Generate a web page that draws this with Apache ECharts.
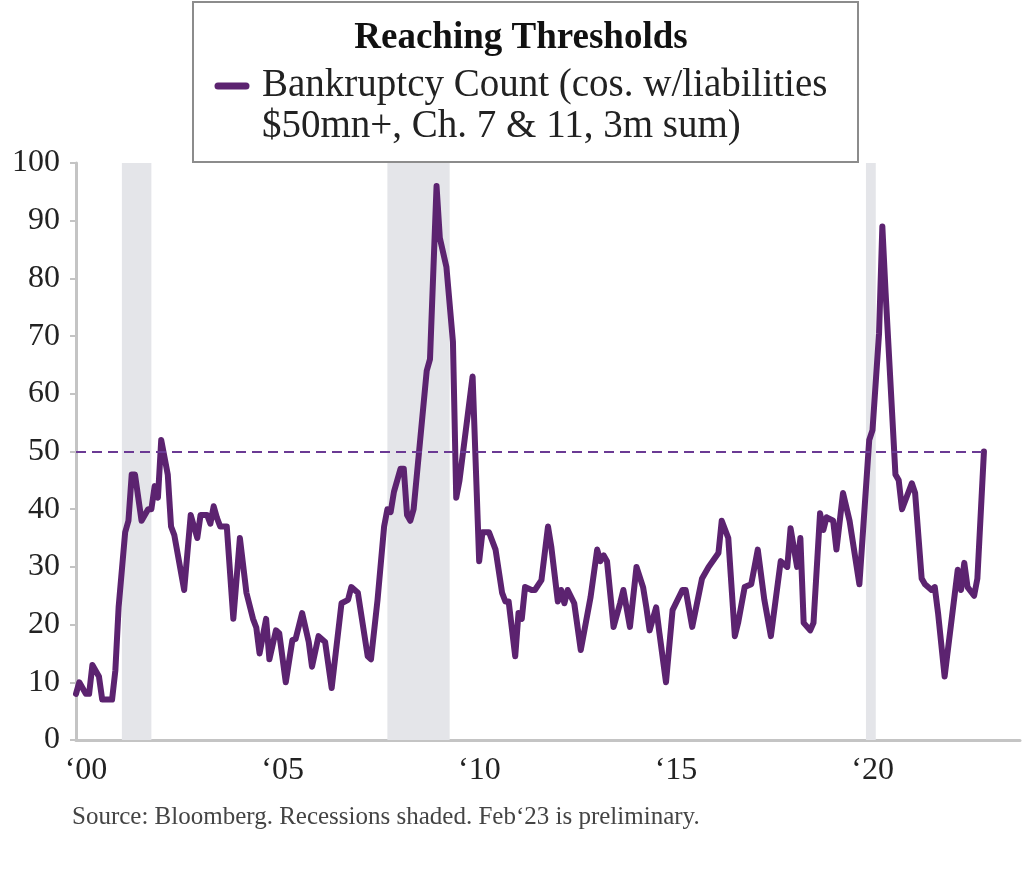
<!DOCTYPE html>
<html>
<head>
<meta charset="utf-8">
<script src="https://cdn.jsdelivr.net/npm/echarts@6.0.0/dist/echarts.min.js"></script>
<style>
  html, body { margin: 0; padding: 0; background: #fff; }
  #chart { width: 1024px; height: 894px; }
</style>
</head>
<body>
<div id="chart"></div>
<script>
// bankruptcy count (turning points of the monthly line)
const months = [
  '2000-01','2000-02','2000-04','2000-05','2000-06','2000-08','2000-09','2000-12',
  '2001-01','2001-02','2001-04','2001-05','2001-06','2001-07','2001-09','2001-10','2001-11','2001-12',
  '2002-01','2002-02','2002-03','2002-04','2002-05','2002-06','2002-07','2002-10','2002-12',
  '2003-01','2003-02','2003-03','2003-05','2003-06','2003-07','2003-08','2003-09','2003-11',
  '2004-01','2004-03','2004-05','2004-07','2004-08','2004-09','2004-10','2004-11','2004-12',
  '2005-02','2005-03','2005-05','2005-07','2005-08','2005-10','2005-12',
  '2006-01','2006-03','2006-05','2006-07','2006-10','2006-12',
  '2007-01','2007-03','2007-06','2007-07','2007-09','2007-11','2007-12',
  '2008-01','2008-02','2008-04','2008-05','2008-06','2008-07','2008-08','2008-12',
  '2009-01','2009-03','2009-04','2009-06','2009-08','2009-09','2009-10',
  '2010-02','2010-04','2010-05','2010-07','2010-09','2010-11','2010-12',
  '2011-01','2011-03','2011-04','2011-05','2011-06','2011-08','2011-09','2011-11',
  '2012-01','2012-02','2012-04','2012-05','2012-06','2012-07','2012-09','2012-11',
  '2013-02','2013-04','2013-05','2013-06','2013-07','2013-09','2013-11','2013-12',
  '2014-02','2014-04','2014-06','2014-07','2014-08','2014-10','2014-11',
  '2015-01','2015-03','2015-06','2015-07','2015-09','2015-12',
  '2016-01','2016-02','2016-05','2016-06','2016-08','2016-10','2016-11',
  '2017-01','2017-03','2017-05','2017-07','2017-09','2017-12',
  '2018-02','2018-03','2018-05','2018-06','2018-07','2018-09','2018-10','2018-12',
  '2019-01','2019-02','2019-04','2019-05','2019-07','2019-09','2019-12',
  '2020-03','2020-04','2020-06','2020-07','2020-08','2020-11','2020-12',
  '2021-01','2021-04','2021-05','2021-07','2021-08','2021-10','2021-11','2021-12',
  '2022-02','2022-06','2022-07','2022-08','2022-09','2022-11','2022-12',
  '2023-02'
];
const counts = [
  8, 10, 8, 8, 13, 11, 7, 7,
  12, 23, 36, 38, 46, 46, 38, 39, 40, 40,
  44, 42, 52, 49, 46, 37, 35.5, 26, 39,
  37, 35, 39, 39, 37.5, 40.5, 38.5, 37, 37,
  21, 35, 25.5, 21, 19.5, 15, 18, 21, 14,
  19, 18.5, 10, 17.3, 17.5, 22, 17,
  12.7, 18, 17, 9, 23.7, 24.3,
  26.5, 25.5, 14.5, 14, 24.3, 37, 40,
  39.5, 43, 47, 47, 39, 38, 40, 64,
  66, 96, 87, 82, 69, 42, 45,
  63, 31, 36, 36, 33, 25.5, 24,
  24, 14.5, 22, 21, 26.5, 26, 26, 27.7,
  37, 33.5, 24, 26, 23.7, 26, 23.7, 15.6,
  24.8, 33, 31, 32, 31, 19.6, 23.7, 26,
  19.6, 30, 26.5, 23, 19, 23, 18.5,
  10, 22.5, 26, 26, 19.6, 28,
  29, 30, 32.4, 38, 35, 18, 20.3,
  26.5, 27, 33, 24.3, 18, 31,
  30, 36.7, 30, 35, 20.3, 19, 20.3, 39.3,
  36.4, 38.6, 38, 33, 42.8, 38, 27,
  52, 53.7, 70.5, 89, 77.5, 46, 45,
  40, 44.5, 42.8, 28, 27, 26, 26.5, 22,
  11, 29.5, 26, 30.7, 26.5, 25, 28,
  50
];
const recessions = [['2001-03', '2001-11'], ['2007-12', '2009-06'], ['2020-02', '2020-04']];
const threshold = 50;
const yTicks = [0, 10, 20, 30, 40, 50, 60, 70, 80, 90, 100];
const xTicks = [2000, 2005, 2010, 2015, 2020];

const purple = '#5c2370';
const serif = '"Liberation Serif", "DejaVu Serif", serif';

function toYear(s) {
  const [y, m] = s.split('-').map(Number);
  return y + (m - 1) / 12;
}

const lineData = months.map((m, i) => [toYear(m), counts[i]]);
const lastX = toYear(months[months.length - 1]);

const chart = echarts.init(document.getElementById('chart'));
chart.setOption({
  backgroundColor: '#fff',
  animation: false,
  grid: { left: 76, right: 4, top: 163, bottom: 154 },
  xAxis: {
    type: 'value',
    min: 2000,
    max: 2024,
    interval: 5,
    axisLine: { lineStyle: { color: '#c4c4c4', width: 3 } },
    axisTick: { show: false },
    splitLine: { show: false },
    axisLabel: {
      margin: 15,
      color: '#222',
      fontFamily: serif,
      fontSize: 32,
      padding: [0, 0, 0, 20],
      formatter: v => xTicks.includes(v) ? '\u2018' + String(v).slice(2) : ''
    }
  },
  yAxis: {
    type: 'value',
    min: yTicks[0],
    max: yTicks[yTicks.length - 1],
    interval: 10,
    axisLine: { show: true, lineStyle: { color: '#c4c4c4', width: 3 } },
    axisTick: { show: true, length: 6, lineStyle: { color: '#c4c4c4', width: 2 } },
    splitLine: { show: false },
    axisLabel: { margin: 16, color: '#222', fontFamily: serif, fontSize: 32 }
  },
  series: [
    {
      // recession shading
      type: 'line',
      data: [],
      z: 1,
      silent: true,
      markArea: {
        silent: true,
        itemStyle: { color: '#e4e5e9' },
        data: recessions.map(r => [{ xAxis: toYear(r[0]) }, { xAxis: toYear(r[1]) + 1 / 12 }])
      }
    },
    {
      name: 'Bankruptcy Count',
      type: 'line',
      z: 3,
      data: lineData,
      showSymbol: false,
      lineStyle: { color: purple, width: 6, join: 'round', cap: 'round' },
      itemStyle: { color: purple },
      markLine: {
        silent: true,
        symbol: 'none',
        label: { show: false },
        lineStyle: { color: '#6b3a94', type: [10, 6], width: 2 },
        data: [[{ coord: [2000, threshold] }, { coord: [lastX, threshold] }]]
      }
    }
  ],
  graphic: [
    {
      type: 'rect',
      shape: { x: 193, y: 2, width: 665, height: 160 },
      style: { fill: '#fff', stroke: '#8c8c8c', lineWidth: 2 },
      z: 10
    },
    {
      type: 'text',
      x: 521, y: 38, z: 11,
      style: {
        text: 'Reaching Thresholds', fill: '#111', fontFamily: serif,
        fontWeight: 'bold', fontSize: 37, align: 'center', verticalAlign: 'middle'
      }
    },
    {
      type: 'line',
      shape: { x1: 218, y1: 86, x2: 246, y2: 86 },
      style: { stroke: purple, lineWidth: 7, lineCap: 'round' },
      z: 11
    },
    {
      type: 'text',
      x: 262, y: 86, z: 11,
      style: {
        text: 'Bankruptcy Count (cos. w/liabilities', fill: '#222', fontFamily: serif,
        fontSize: 39, verticalAlign: 'middle'
      }
    },
    {
      type: 'text',
      x: 262, y: 127, z: 11,
      style: {
        text: '$50mn+, Ch. 7 & 11, 3m sum)', fill: '#222', fontFamily: serif,
        fontSize: 39, verticalAlign: 'middle'
      }
    },
    {
      type: 'text',
      x: 72, y: 817,
      style: {
        text: 'Source: Bloomberg. Recessions shaded. Feb\u201823 is preliminary.',
        fill: '#444', fontFamily: serif, fontSize: 25, verticalAlign: 'middle'
      }
    }
  ]
});
</script>
</body>
</html>
